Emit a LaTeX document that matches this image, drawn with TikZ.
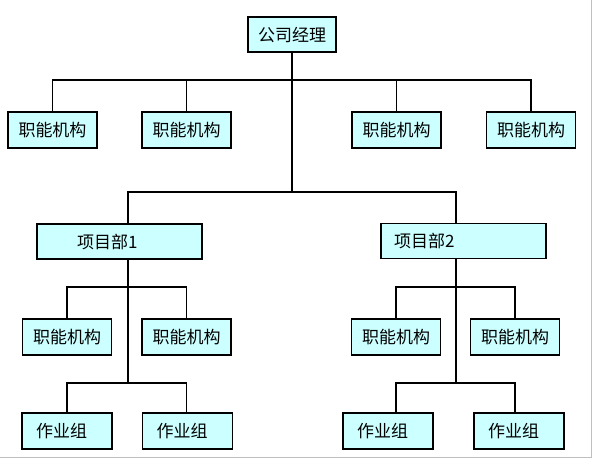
\documentclass[tikz,border=0pt]{standalone}
\usepackage{fontspec}
\newfontfamily\cjk{Noto Sans CJK SC}
\usepackage{xcolor}
\usepackage{tikz}
\definecolor{boxcyan}{RGB}{204,255,255}

\begin{document}
\begin{tikzpicture}[x=1pt,y=-1pt,
  box/.style={draw=black,fill=boxcyan,line width=1.1pt,minimum height=36pt,inner sep=0pt,font=\cjk\fontsize{17}{20}\selectfont},
  func/.style={box,minimum width=89pt},
  proj/.style={box,minimum height=35pt,align=left},
  work/.style={box,minimum width=90pt,text width=62pt,inner xsep=14pt,align=left}]
\useasboundingbox (0,0) rectangle (592,458);
\draw[gray!50] (0,457) -- (591,457) -- (591,0);

    \node[box,minimum width=88pt,minimum height=35pt] (boss) at (292,34.5) {公司经理};
    \node[func] (f1) at (52.5,130) {职能机构};
    \node[func] (f2) at (186.5,130) {职能机构};
    \node[func] (f3) at (396.5,130) {职能机构};
    \node[func] (f4) at (531,130) {职能机构};
    \node[proj,inner xsep=40pt,text width=85pt] (p1) at (119.5,241.5) {项目部1};
    \node[proj,inner xsep=13pt,text width=139pt] (p2) at (463.5,241) {项目部2};
    \node[func] (fa) at (67,337) {职能机构};
    \node[func] (fb) at (186.5,337) {职能机构};
    \node[func] (fc) at (396,337) {职能机构};
    \node[func] (fd) at (515,337) {职能机构};
    \node[work] (ga) at (67,431) {作业组};
    \node[work] (gb) at (187.5,431) {作业组};
    \node[work] (gc) at (388,431) {作业组};
    \node[work] (gd) at (519,431) {作业组};

\begin{scope}[line width=1.1pt]
    \coordinate (bus1) at (292,80);
    \coordinate (bus2) at (292,192);
    \coordinate (j1) at (128,287);
    \coordinate (j2) at (128,383);
    \coordinate (k1) at (456,287);
    \coordinate (k2) at (456,383);

    \draw (boss.south) -- (bus2);
    \draw (f1.north) |- (bus1) -| (f4.north);
    \draw (f2.north) -- (f2.north |- bus1);
    \draw (f3.north) -- (f3.north |- bus1);
    \draw (p1.north -| j1) |- (bus2) -| (p2.north -| k1);

    \draw (p1.south -| j1) -- (j2);
    \draw (fa.north) |- (j1) -| (fb.north);
    \draw (ga.north -| fa) |- (j2) -| (gb.north -| fb);

    \draw (p2.south -| k1) -- (k2);
    \draw (fc.north) |- (k1) -| (fd.north);
    \draw (gc.north -| fc) |- (k2) -| (gd.north -| fd);
\end{scope}
\end{tikzpicture}
\end{document}
